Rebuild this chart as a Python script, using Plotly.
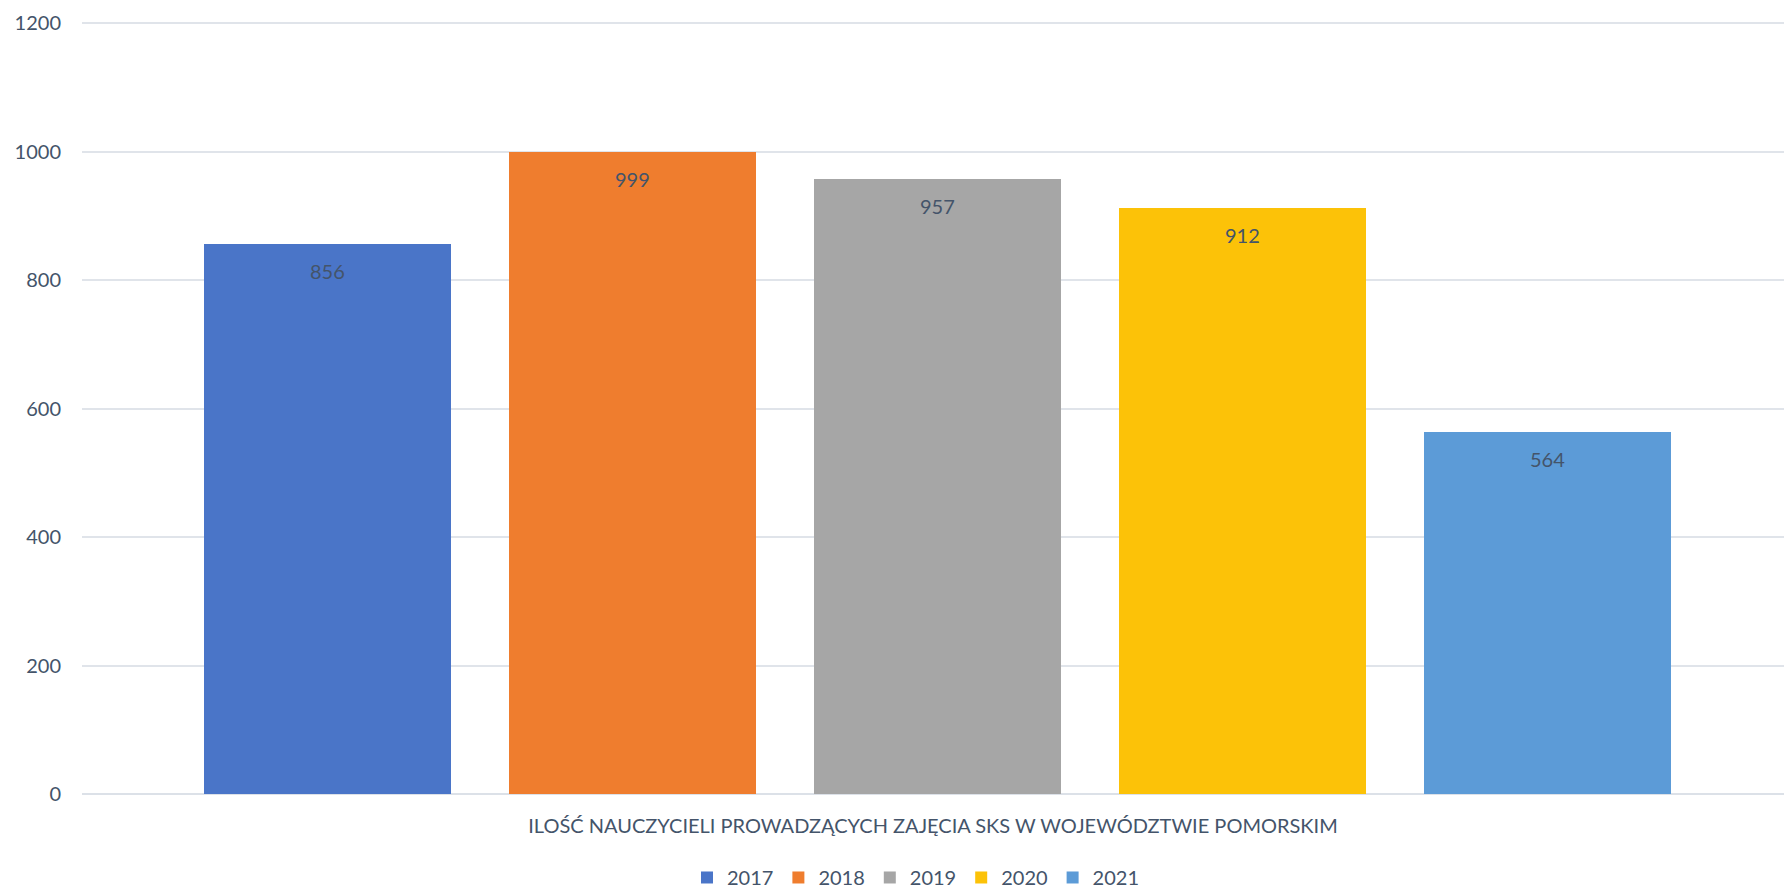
import plotly.graph_objects as go

years = ["2017", "2018", "2019", "2020", "2021"]
values = [856, 999, 957, 912, 564]
colors = ["#4A75C8", "#EF7D2E", "#A6A6A6", "#FCC208", "#5C9BD7"]
category_label = "ILOŚĆ NAUCZYCIELI PROWADZĄCYCH ZAJĘCIA SKS W WOJEWÓDZTWIE POMORSKIM"
y_ticks = [0, 200, 400, 600, 800, 1000, 1200]

text_color = "#44546A"
font_family = "Lato, 'Open Sans', sans-serif"

fig = go.Figure()
for i, (yr, v, c) in enumerate(zip(years, values, colors)):
    fig.add_trace(go.Bar(
        x=[i], y=[v], name=yr, width=0.81,
        marker=dict(color=c, line=dict(width=0)),
        hoverinfo="name+y",
    ))
    fig.add_annotation(
        x=i, y=v, text=str(v), showarrow=False,
        yanchor="top", yshift=-13,
        font=dict(family=font_family, size=20, color=text_color),
    )

fig.update_layout(
    width=1784, height=889,
    paper_bgcolor="white", plot_bgcolor="white",
    margin=dict(l=82, r=0, t=22, b=95, autoexpand=False),
    font=dict(family=font_family, size=20, color=text_color),
    showlegend=True,
    legend=dict(
        orientation="h", x=0.49, xanchor="center",
        y=-0.1334, yanchor="bottom",
        font=dict(size=20, color=text_color),
        itemwidth=30, traceorder="normal",
    ),
    xaxis=dict(
        range=[-0.805, 4.775], showticklabels=False, showgrid=False,
        zeroline=False, showline=False, ticks="", automargin=False,
        title=dict(text=category_label, standoff=24,
                   font=dict(size=20, color=text_color)),
    ),
    yaxis=dict(
        range=[0, 1202], tickvals=y_ticks, automargin=False,
        showgrid=True, gridcolor="#E0E4EA", gridwidth=1.5,
        zeroline=True, zerolinecolor="#DCE1E8", zerolinewidth=2,
        showline=False, ticks="", ticklabelstandoff=20,
        tickfont=dict(size=20, color=text_color),
    ),
    bargap=0,
)

fig.write_html(
    "out.html",
    config={"displayModeBar": False},
    post_script="document.body.style.margin='0';document.body.style.overflow='hidden';",
)
